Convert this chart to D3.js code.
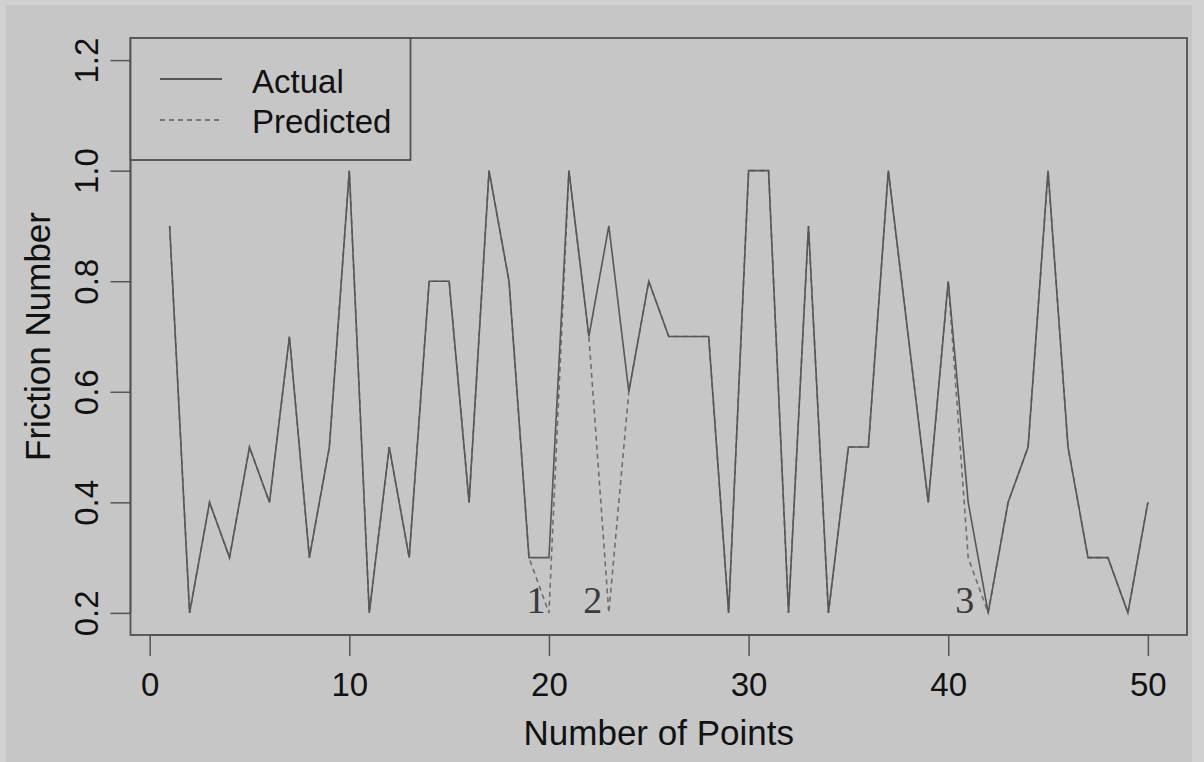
<!DOCTYPE html>
<html>
<head>
<meta charset="utf-8">
<script src="https://cdn.jsdelivr.net/npm/d3@7"></script>
<style>
  body { margin: 0; background: #d0d0d0; }
  #chart { width: 1204px; height: 762px; }
  .axisText { font-family: "Liberation Sans", Arial, sans-serif; font-size: 33px; fill: #111; }
  .axisTitle { font-family: "Liberation Sans", Arial, sans-serif; font-size: 35px; fill: #111; }
  .markText { font-family: "Liberation Serif", "Times New Roman", serif; font-size: 38px; fill: #3a3a3a; }
</style>
</head>
<body>
<div id="chart"></div>
<script>
// data
const points = d3.range(1, 51);
const actual = [0.9, 0.2, 0.4, 0.3, 0.5, 0.4, 0.7, 0.3, 0.5, 1.0,
                0.2, 0.5, 0.3, 0.8, 0.8, 0.4, 1.0, 0.8, 0.3, 0.3,
                1.0, 0.7, 0.9, 0.6, 0.8, 0.7, 0.7, 0.7, 0.2, 1.0,
                1.0, 0.2, 0.9, 0.2, 0.5, 0.5, 1.0, 0.7, 0.4, 0.8,
                0.4, 0.2, 0.4, 0.5, 1.0, 0.5, 0.3, 0.3, 0.2, 0.4];
const predicted = [0.9, 0.2, 0.4, 0.3, 0.5, 0.4, 0.7, 0.3, 0.5, 1.0,
                   0.2, 0.5, 0.3, 0.8, 0.8, 0.4, 1.0, 0.8, 0.3, 0.2,
                   1.0, 0.7, 0.2, 0.6, 0.8, 0.7, 0.7, 0.7, 0.2, 1.0,
                   1.0, 0.2, 0.9, 0.2, 0.5, 0.5, 1.0, 0.7, 0.4, 0.8,
                   0.3, 0.2, 0.4, 0.5, 1.0, 0.5, 0.3, 0.3, 0.2, 0.4];
const xTicks = [0, 10, 20, 30, 40, 50];
const yTicks = [0.2, 0.4, 0.6, 0.8, 1.0, 1.2];
const legendLabels = ["Actual", "Predicted"];
const markLabels = ["1", "2", "3"];
const markX = [19.35, 22.2, 40.83];
const markY = [0.2, 0.2, 0.2];

const width = 1204, height = 762;
const margin = {top: 38, right: 17, bottom: 127, left: 130.5};

let svg = d3.select("#chart").append("svg")
  .attr("width", width)
  .attr("height", height);

// light outer frame, then the grey panel
svg.append("rect").attr("width", width).attr("height", height).attr("fill", "#d1d1d1");
svg.append("rect").attr("x", 6).attr("y", 5).attr("width", 1186).attr("height", height - 5)
  .attr("fill", "#c6c6c6");

//----------------------------------------
// Scales (R style, 4% padding)
//----------------------------------------
let x = d3.scaleLinear()
  .domain([1 - 0.04 * 49, 50 + 0.04 * 49])
  .range([margin.left, width - margin.right]);
let y = d3.scaleLinear()
  .domain([0.2 - 0.04, 1.2 + 0.04])
  .range([height - margin.bottom, margin.top]);

//----------------------------------------
// Axes
//----------------------------------------
let xAxis = svg.append("g")
  .attr("transform", `translate(0,${height - margin.bottom})`)
  .call(d3.axisBottom(x).tickValues(xTicks).tickSize(21).tickPadding(4).tickFormat(d3.format("d")));
xAxis.select(".domain").attr("d", `M${x(0)},0H${x(50)}`);
xAxis.selectAll("line").attr("stroke", "#555").attr("stroke-width", 1.5);
xAxis.select(".domain").attr("stroke", "#555").attr("stroke-width", 1.5);
xAxis.selectAll("text").attr("class", "axisText").attr("dy", null).attr("y", 61);

let yAxis = svg.append("g")
  .attr("transform", `translate(${margin.left},0)`)
  .call(d3.axisLeft(y).tickValues(yTicks).tickSize(20).tickFormat(d3.format(".1f")));
yAxis.select(".domain").attr("d", `M0,${y(0.2)}V${y(1.2)}`)
  .attr("stroke", "#555").attr("stroke-width", 1.5);
yAxis.selectAll("line").attr("stroke", "#555").attr("stroke-width", 1.5);
yAxis.selectAll("text")
  .attr("class", "axisText")
  .attr("x", null).attr("dy", null)
  .attr("text-anchor", "middle")
  .attr("transform", "translate(-33,0) rotate(-90)");

// box
svg.append("rect")
  .attr("x", margin.left).attr("y", margin.top)
  .attr("width", width - margin.right - margin.left)
  .attr("height", height - margin.bottom - margin.top)
  .attr("fill", "none").attr("stroke", "#505050").attr("stroke-width", 1.8);

//----------------------------------------
// Axis titles
//----------------------------------------
svg.append("text")
  .attr("class", "axisTitle")
  .attr("x", (x.range()[0] + x.range()[1]) / 2)
  .attr("y", 745)
  .attr("text-anchor", "middle")
  .text("Number of Points");

svg.append("text")
  .attr("class", "axisTitle")
  .attr("transform", `translate(50,${(y.range()[0] + y.range()[1]) / 2}) rotate(-90)`)
  .attr("text-anchor", "middle")
  .text("Friction Number");

//----------------------------------------
// Lines
//----------------------------------------
let line = d3.line()
  .x((d, i) => x(points[i]))
  .y(d => y(d));

svg.append("path")
  .datum(predicted)
  .attr("d", line)
  .attr("fill", "none")
  .attr("stroke", "#6e6e6e")
  .attr("stroke-width", 1.6)
  .attr("stroke-dasharray", "5,4");

svg.append("path")
  .datum(actual)
  .attr("d", line)
  .attr("fill", "none")
  .attr("stroke", "#575757")
  .attr("stroke-width", 1.6);

//----------------------------------------
// Marked points 1, 2, 3
//----------------------------------------
svg.selectAll(".markText")
  .data(markLabels)
  .enter()
  .append("text")
  .attr("class", "markText")
  .attr("x", (d, i) => x(markX[i]))
  .attr("y", (d, i) => y(markY[i]))
  .attr("text-anchor", "middle")
  .text(d => d);

//----------------------------------------
// Legend
//----------------------------------------
let legend = svg.append("g");
legend.append("rect")
  .attr("x", margin.left).attr("y", margin.top)
  .attr("width", 280).attr("height", 122)
  .attr("fill", "#c6c6c6").attr("stroke", "#505050").attr("stroke-width", 1.8);

legend.selectAll(".legLine")
  .data(legendLabels)
  .enter()
  .append("line")
  .attr("class", "legLine")
  .attr("x1", 160).attr("x2", 222)
  .attr("y1", (d, i) => 79 + i * 41)
  .attr("y2", (d, i) => 79 + i * 41)
  .attr("stroke", (d, i) => i == 0 ? "#575757" : "#777")
  .attr("stroke-width", 1.8)
  .attr("stroke-dasharray", (d, i) => i == 0 ? null : "5,4");

legend.selectAll(".legText")
  .data(legendLabels)
  .enter()
  .append("text")
  .attr("class", "axisText legText")
  .attr("x", 252)
  .attr("y", (d, i) => 93 + i * 40)
  .text(d => d);
</script>
</body>
</html>
